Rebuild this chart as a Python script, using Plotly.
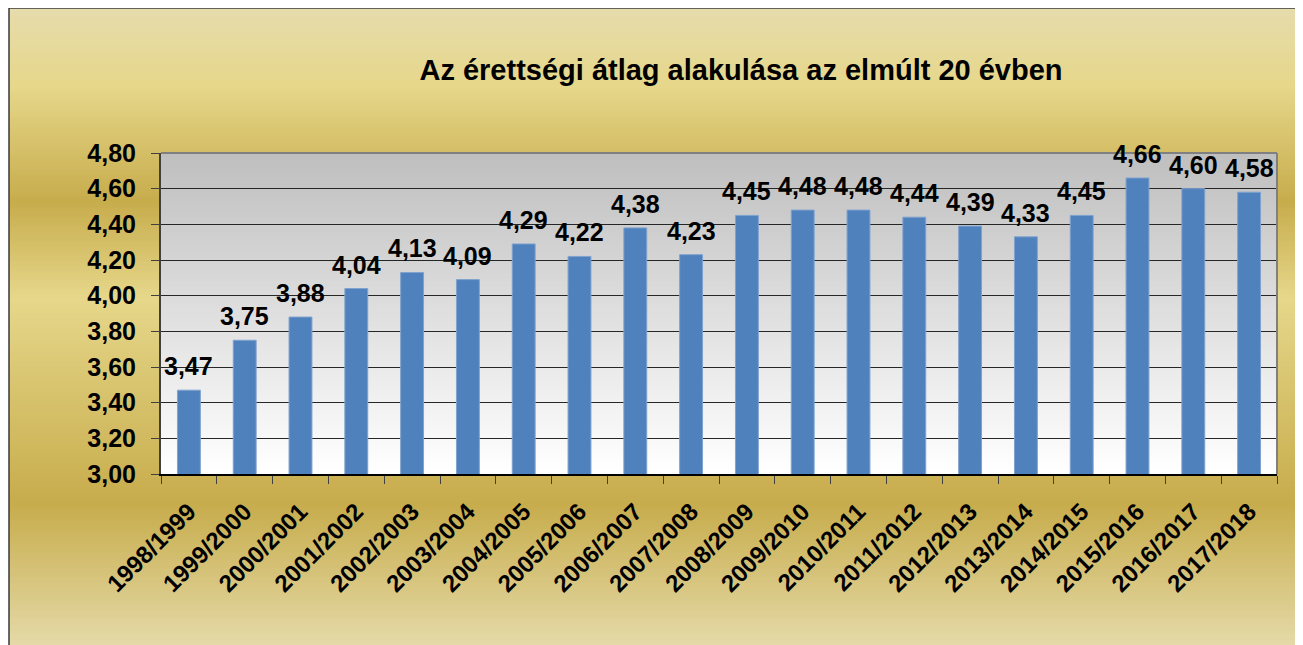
import plotly.graph_objects as go

# data
years = ["1998/1999", "1999/2000", "2000/2001", "2001/2002", "2002/2003",
         "2003/2004", "2004/2005", "2005/2006", "2006/2007", "2007/2008",
         "2008/2009", "2009/2010", "2010/2011", "2011/2012", "2012/2013",
         "2013/2014", "2014/2015", "2015/2016", "2016/2017", "2017/2018"]
averages = [3.47, 3.75, 3.88, 4.04, 4.13, 4.09, 4.29, 4.22, 4.38, 4.23,
            4.45, 4.48, 4.48, 4.44, 4.39, 4.33, 4.45, 4.66, 4.60, 4.58]
y_ticks = [3.0, 3.2, 3.4, 3.6, 3.8, 4.0, 4.2, 4.4, 4.6, 4.8]

title = "Az érettségi átlag alakulása az elmúlt 20 évben"
FONT = "Arial, Liberation Sans, sans-serif"

# page has an 8px body margin, so the figure is smaller than the window
OFF = 8
W, H = 1303 - OFF, 645 - OFF
L, T = 161 - OFF, 153 - OFF
R = W - (1277 - OFF)
B = H - (474 - OFF)
pw, ph = W - L - R, H - T - B


def px_x(px):
    # px in window coordinates
    return (px - OFF - L) / pw


def px_y(py):
    return (H - B - (py - OFF)) / ph


def hex2rgb(h):
    h = h.lstrip("#")
    return [int(h[i:i + 2], 16) for i in (0, 2, 4)]


def lerp_color(stops, t):
    for (t0, c0), (t1, c1) in zip(stops, stops[1:]):
        if t0 <= t <= t1:
            f = 0 if t1 == t0 else (t - t0) / (t1 - t0)
            a, b = hex2rgb(c0), hex2rgb(c1)
            return "rgb(%d,%d,%d)" % tuple(round(a[i] + (b[i] - a[i]) * f) for i in range(3))
    return stops[-1][1]


shapes = []

# gold background of the chart area (Excel "Gold" preset)
gold = [(0, "#E6DCAC"), (0.12, "#E6D78A"), (0.30, "#C7AC4C"),
        (0.45, "#E6D78A"), (0.77, "#C7AC4C"), (1.0, "#E6DCAC")]
top, bottom = 7, 650
step = 3
y = top
while y < bottom:
    t = (y - top) / (bottom - top)
    shapes.append(dict(type="rect", xref="paper", yref="paper", layer="below",
                       x0=px_x(9), x1=px_x(1310), y0=px_y(y), y1=px_y(min(y + step + 1, bottom)),
                       fillcolor=lerp_color(gold, t), line_width=0))
    y += step

# plot area gradient gray -> white
plot_grad = [(0, "#BFBFBF"), (1, "#FFFFFF")]
n = 80
for i in range(n):
    shapes.append(dict(type="rect", xref="paper", yref="paper", layer="below",
                       x0=0, x1=1, y0=1 - i / n, y1=1 - (i + 1) / n - 0.003,
                       fillcolor=lerp_color(plot_grad, i / (n - 1)), line_width=0))

# outer border
shapes.append(dict(type="rect", xref="paper", yref="paper", layer="above",
                   x0=px_x(9), x1=px_x(1330), y0=px_y(8), y1=px_y(670),
                   line=dict(color="#3a3a3a", width=1.5), fillcolor="rgba(0,0,0,0)"))
# top and right plot border
shapes.append(dict(type="line", xref="paper", yref="paper", layer="above",
                   x0=0, x1=1, y0=1, y1=1, line=dict(color="#808080", width=2)))
shapes.append(dict(type="line", xref="paper", yref="paper", layer="above",
                   x0=1, x1=1, y0=0, y1=1, line=dict(color="#808080", width=2)))

fig = go.Figure()
fig.add_trace(go.Bar(
    x=years, y=averages,
    marker=dict(color="#4F81BD", line=dict(color="#7FA2CF", width=1)),
    hoverinfo="skip",
))

labels = [dict(x=yr, y=v, text=f"{v:.2f}".replace(".", ","), showarrow=False,
               yanchor="bottom", yshift=8,
               font=dict(family=FONT, size=25, color="black", weight="bold"))
          for yr, v in zip(years, averages)]

fig.update_layout(
    width=W, height=H,
    margin=dict(l=L, r=R, t=T, b=B),
    paper_bgcolor="white",
    plot_bgcolor="rgba(0,0,0,0)",
    separators=", ",
    showlegend=False,
    bargap=0.59,
    shapes=shapes,
    annotations=labels,
    title=dict(text=title, xref="container", yref="container",
               x=(741 - OFF) / W, y=1 - (70 - OFF) / H, xanchor="center", yanchor="middle",
               font=dict(family=FONT, size=29, color="black", weight="bold")),
    xaxis=dict(
        type="category", tickangle=-45, tickson="boundaries",
        ticks="outside", ticklen=8, tickcolor="#404040",
        showline=True, linecolor="#000000", linewidth=2,
        showgrid=False, ticklabelstandoff=12,
        tickfont=dict(family=FONT, size=24, color="black", weight="bold"),
    ),
    yaxis=dict(
        range=[3.0, 4.8], tickvals=y_ticks, tickformat=".2f",
        ticks="outside", ticklen=8, tickcolor="#404040",
        showline=True, linecolor="#404040", linewidth=2,
        showgrid=True, gridcolor="#262626", gridwidth=1,
        zeroline=False, ticklabelstandoff=10,
        tickfont=dict(family=FONT, size=25, color="black", weight="bold"),
    ),
)

fig.write_html("out.html")
